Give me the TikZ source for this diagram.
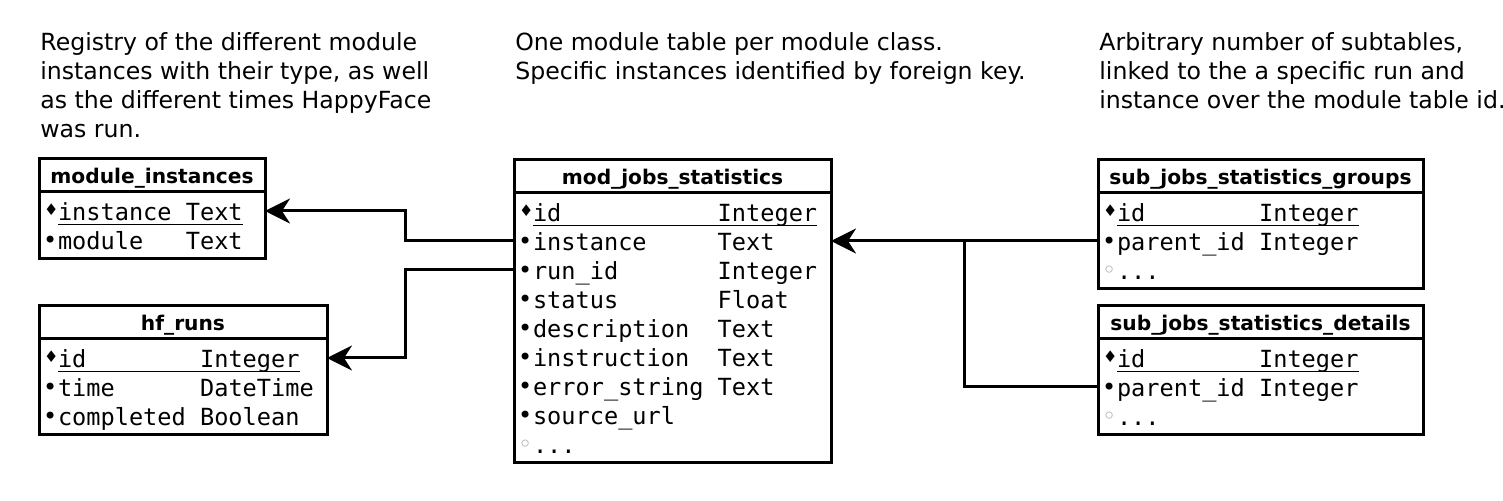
\documentclass[tikz,border=0pt]{standalone}
\usepackage{fontspec}
\setmainfont{DejaVu Sans}
\setmonofont{DejaVu Sans Mono}
\newfontfamily\symfont{DejaVu Sans}
\usetikzlibrary{positioning,calc,arrows.meta}

\newlength{\cw}
\newcommand{\tabfont}{\ttfamily\fontsize{11.8}{14.5}\selectfont\lineskiplimit=-20pt\settowidth{\cw}{0}}
\newcommand{\rowstrut}{\rule[-2.6pt]{0pt}{14.5pt}}
\newcommand{\ulfld}[1]{\setbox0\hbox{#1}\rlap{\rule[-2.4pt]{\wd0}{0.6pt}}\box0}
\newcommand{\mkpk}{\makebox[7.5pt][l]{\hspace{0.6pt}\raisebox{2.2pt}{\symfont\fontsize{8}{8}\selectfont ♦}}}
\newcommand{\mkfk}{\makebox[7.5pt][l]{\raisebox{0.6pt}{\symfont\fontsize{12}{12}\selectfont •}}}
\newcommand{\mkmore}{\makebox[7.5pt][l]{\raisebox{0.6pt}{\color{gray!70}\symfont\fontsize{12}{12}\selectfont ◦}}}
\newcommand{\pkrow}[3]{\rowstrut\mkpk\ulfld{\makebox[#1\cw][l]{#2}#3}}
\newcommand{\fkrow}[3]{\rowstrut\mkfk\makebox[#1\cw][l]{#2}#3}
\newcommand{\morerow}{\rowstrut\mkmore...}

\begin{document}
\begin{tikzpicture}[x=0.5pt, y=-0.5pt]

% definitions
\tikzstyle{tabhead} = [rectangle, draw=black, line width=1.5pt, outer sep=0pt, inner sep=0pt, minimum height=16.5pt, text depth=0pt, font=\bfseries\fontsize{10.1}{12}\selectfont]

\tikzstyle{tabbody} = [rectangle, draw=black, line width=1.5pt, outer sep=0pt, inner xsep=2pt, inner ysep=2.25pt, align=left, font=\tabfont]

\tikzstyle{note} = [anchor=base west, align=left, inner sep=0pt, font=\fontsize{11.8}{14.5}\selectfont]

\tikzstyle{arrow} = [-{Stealth[length=12.5pt, width=12.5pt, inset=4pt]}, line width=1.5pt]

\tikzstyle{link} = [line width=1.5pt]

\useasboundingbox (0,0) rectangle (1503,501);


% notes (base = last line)
\node (noteL) [note] at (40,138) {Registry of the different module\\instances with their type, as well\\as the different times HappyFace\\was run.};
\node (noteM) [note] at (515,80) {One module table per module class.\\Specific instances identified by foreign key.};
\node (noteR) [note] at (1099,109) {Arbitrary number of subtables,\\linked to the a specific run and\\instance over the module table id.};


% registry tables
\node (mih) [tabhead, minimum width=113pt, anchor=north west] at (39,159) {module\_instances};
\node (mib) [tabbody, text width=109pt, below=0pt of mih] {\pkrow{9}{instance}{Text}\\\fkrow{9}{module}{Text}};

\node (hfh) [tabhead, minimum width=144pt, anchor=north west] at (39,306) {hf\_runs};
\node (hfb) [tabbody, text width=140pt, below=0pt of hfh] {\pkrow{10}{id}{Integer}\\\fkrow{10}{time}{DateTime}\\\fkrow{10}{completed}{Boolean}};


% module table
\node (mjh) [tabhead, minimum width=158.5pt, anchor=north west] at (514,160) {mod\_jobs\_statistics};
\node (mjb) [tabbody, text width=154.5pt, below=0pt of mjh] {\pkrow{13}{id}{Integer}\\\fkrow{13}{instance}{Text}\\\fkrow{13}{run\_id}{Integer}\\\fkrow{13}{status}{Float}\\\fkrow{13}{description}{Text}\\\fkrow{13}{instruction}{Text}\\\fkrow{13}{error\_string}{Text}\\\fkrow{13}{source\_url}{}\\\morerow};


% subtables
\node (sgh) [tabhead, minimum width=162.5pt, anchor=north west] at (1098,160) {sub\_jobs\_statistics\_groups};
\node (sgb) [tabbody, text width=158.5pt, below=0pt of sgh] {\pkrow{10}{id}{Integer}\\\fkrow{10}{parent\_id}{Integer}\\\morerow};

\node (sdh) [tabhead, minimum width=162.5pt, anchor=north west] at (1098,306) {sub\_jobs\_statistics\_details};
\node (sdb) [tabbody, text width=158.5pt, below=0pt of sdh] {\pkrow{10}{id}{Integer}\\\fkrow{10}{parent\_id}{Integer}\\\morerow};


% row anchors
\coordinate (mi-in) at ($(mib.north east)+(0,19)$);
\coordinate (hf-id) at ($(hfb.north east)+(0,19)$);
\coordinate (mj-in) at ($(mjb.north west)+(0,48)$);
\coordinate (mj-run) at ($(mjb.north west)+(0,77)$);
\coordinate (mj-in-r) at ($(mjb.north east)+(0,48)$);
\coordinate (sg-par) at ($(sgb.north west)+(0,48)$);
\coordinate (sd-par) at ($(sdb.north west)+(0,48)$);
\coordinate (split) at ($(sg-par)+(-134,0)$);


% foreign keys
\draw [arrow] (mj-in) -- ++(-109,0) |- (mi-in);
\draw [arrow] (mj-run) -- ++(-109,0) |- (hf-id);
\draw [arrow] (sg-par) -- (mj-in-r);
\draw [link] (sd-par) -| (split);

\end{tikzpicture}
\end{document}
